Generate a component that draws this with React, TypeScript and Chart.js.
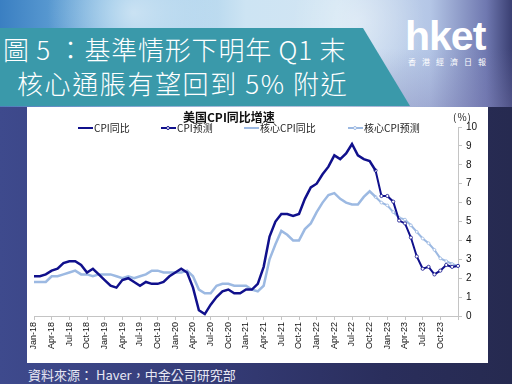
import React, { useEffect, useRef } from "react";
import { Chart, registerables } from "chart.js";
Chart.register(...registerables);

// Category positions: Jan-18 … Jan-24 (73 monthly slots)
const monthNames = ["Jan", "Feb", "Mar", "Apr", "May", "Jun", "Jul", "Aug", "Sep", "Oct", "Nov", "Dec"];
const yearSuffixes = ["18", "19", "20", "21", "22", "23", "24"];
const categories: string[] = [];
yearSuffixes.forEach((y) => monthNames.forEach((m) => categories.push(`${m}-${y}`)));
categories.length = 73;

// Tick labels shown on the x axis
const tickLabels = [
  "Jan-18", "Apr-18", "Jul-18", "Oct-18", "Jan-19", "Apr-19", "Jul-19", "Oct-19",
  "Jan-20", "Apr-20", "Jul-20", "Oct-20", "Jan-21", "Apr-21", "Jul-21", "Oct-21",
  "Jan-22", "Apr-22", "Jul-22", "Oct-22", "Jan-23", "Apr-23", "Jul-23", "Oct-23",
];

// CPI YoY (%), positions 0..58
const cpiActual = [
  2.1,
  2.1, 2.2, 2.4, 2.5, 2.8, 2.9, 2.9, 2.7, 2.3, 2.5, 2.2, 1.9,
  1.6, 1.5, 1.9, 2.0, 1.8, 1.6, 1.8, 1.7, 1.7, 1.8, 2.1, 2.3,
  2.5, 2.3, 1.5, 0.3, 0.1, 0.6, 1.0, 1.3, 1.4, 1.2, 1.2, 1.4,
  1.4, 1.7, 2.6, 4.2, 5.0, 5.4, 5.4, 5.3, 5.4, 6.2, 6.8, 7.0,
  7.5, 7.9, 8.5, 8.3, 8.6, 9.1, 8.5, 8.3, 8.2, 7.7,
];
// CPI forecast (%), positions 58..72
const cpiForecast = [7.7, 6.35, 6.35, 6.05, 5.05, 4.9, 4.15, 3.15, 2.5, 2.6, 2.2, 2.4, 2.7, 2.6, 2.65];

// Core CPI YoY (%), positions 0..58
const coreActual = [
  1.8,
  1.8, 1.8, 2.1, 2.1, 2.2, 2.3, 2.4, 2.2, 2.2, 2.1, 2.2, 2.2,
  2.2, 2.1, 2.0, 2.1, 2.0, 2.1, 2.2, 2.4, 2.4, 2.3, 2.3, 2.3,
  2.3, 2.4, 2.1, 1.4, 1.2, 1.2, 1.6, 1.7, 1.7, 1.6, 1.6, 1.6,
  1.4, 1.3, 1.6, 3.0, 3.8, 4.5, 4.3, 4.0, 4.0, 4.6, 4.9, 5.5,
  6.0, 6.4, 6.5, 6.2, 6.0, 5.9, 5.9, 6.3, 6.6, 6.3,
];
// Core CPI forecast (%), positions 58..72
const coreForecast = [6.3, 6.0, 5.85, 5.5, 5.2, 5.1, 4.8, 4.45, 4.1, 3.85, 3.5, 3.05, 2.9, 2.75, 2.65];

const forecastStart = 58;
const yTicks = [0, 1, 2, 3, 4, 5, 6, 7, 8, 9, 10];

const DARK = "#10108c";
const LIGHT = "#9cb9e2";

function pad(values: number[], start: number): (number | null)[] {
  const out: (number | null)[] = new Array(categories.length).fill(null);
  values.forEach((v, i) => (out[start + i] = v));
  return out;
}

const CJK_SC = "'Noto Sans CJK SC', 'Liberation Sans', Arial, sans-serif";
const CJK_TC = "'Noto Sans CJK TC', 'Liberation Sans', Arial, sans-serif";

function LegendItem({ left, color, marker, text }: { left: number; color: string; marker: boolean; text: string }) {
  return (
    <div style={{ position: "absolute", left, top: 121, height: 13, display: "flex", alignItems: "center" }}>
      <div style={{ position: "relative", width: 15, height: 13 }}>
        <div style={{ position: "absolute", left: 0, top: 5.5, width: 15, height: 2, background: color }} />
        {marker && (
          <div
            style={{
              position: "absolute", left: 5, top: 4.5, width: 2, height: 2, borderRadius: "50%",
              background: "#fff", border: `1px solid ${color}`,
            }}
          />
        )}
      </div>
      <span style={{ fontFamily: CJK_SC, fontSize: 10, color: "#222", marginLeft: 1, whiteSpace: "nowrap", lineHeight: "13px" }}>
        {text}
      </span>
    </div>
  );
}

export default function App() {
  const canvasRef = useRef<HTMLCanvasElement | null>(null);

  useEffect(() => {
    if (!canvasRef.current) return;
    const chart = new Chart(canvasRef.current, {
      type: "line",
      data: {
        labels: categories,
        datasets: [
          {
            label: "CPI同比", data: pad(cpiActual, 0), borderColor: DARK, borderWidth: 2.5,
            pointRadius: 0, tension: 0, fill: false,
          },
          {
            label: "CPI预测", data: pad(cpiForecast, forecastStart), borderColor: DARK, borderWidth: 2,
            pointRadius: 1.6, pointBackgroundColor: "#fff", pointBorderColor: DARK, pointBorderWidth: 0.8, tension: 0, fill: false,
          },
          {
            label: "核心CPI同比", data: pad(coreActual, 0), borderColor: LIGHT, borderWidth: 2.5,
            pointRadius: 0, tension: 0, fill: false,
          },
          {
            label: "核心CPI预测", data: pad(coreForecast, forecastStart), borderColor: LIGHT, borderWidth: 2,
            pointRadius: 1.4, pointBackgroundColor: "#fff", pointBorderColor: LIGHT, pointBorderWidth: 0.8, tension: 0, fill: false,
          },
        ],
      },
      options: {
        animation: false,
        responsive: false,
        maintainAspectRatio: false,
        layout: { padding: { left: 7, top: 20, right: 0, bottom: 0 } },
        plugins: { legend: { display: false }, title: { display: false }, tooltip: { enabled: false } },
        scales: {
          x: {
            type: "category",
            offset: false,
            grid: {
              display: true,
              drawOnChartArea: false,
              drawTicks: true,
              tickLength: 4,
              color: (ctx: any) => (ctx.index % 3 === 0 ? "#c4c4c4" : "rgba(0,0,0,0)"),
            },
            border: { display: true, color: "#c4c4c4", width: 1 },
            ticks: {
              autoSkip: false,
              minRotation: 90,
              maxRotation: 90,
              padding: 2,
              color: "#111",
              font: { family: "'Liberation Sans', Arial, sans-serif", size: 9 },
              callback: (_v: any, index: number) => {
                const lbl = categories[index];
                return tickLabels.includes(lbl) ? lbl : "";
              },
            },
            afterFit: (scale: any) => { scale.height = 47; },
          },
          y: {
            position: "right",
            min: 0,
            max: 10,
            afterBuildTicks: (scale: any) => { scale.ticks = yTicks.map((v) => ({ value: v })); },
            grid: { display: true, drawOnChartArea: false, drawTicks: true, tickLength: 4, color: "#c4c4c4" },
            border: { display: true, color: "#c4c4c4", width: 1 },
            ticks: {
              padding: 4,
              color: "#111",
              font: { family: "'Liberation Sans', Arial, sans-serif", size: 10 },
            },
            afterFit: (scale: any) => { scale.width = 30; },
          },
        },
      },
    } as any);
    return () => chart.destroy();
  }, []);

  return (
    <div
      style={{
        position: "absolute", left: 0, top: 0, width: 512, height: 384, overflow: "hidden",
        background: "linear-gradient(90deg, #3e4a8d 0%, #353c78 40%, #2a2e5c 75%, #262a50 100%)",
      }}
    >
      {/* top decorative background */}
      <div
        style={{
          position: "absolute", left: 0, top: 0, width: 512, height: 107,
          background:
            "radial-gradient(circle at 26% 12%, rgba(255,255,255,0.55) 0, rgba(255,255,255,0) 22%)," +
            "radial-gradient(circle at 70% 20%, rgba(255,255,255,0.35) 0, rgba(255,255,255,0) 18%)," +
            "linear-gradient(180deg, rgba(0,0,0,0) 45%, rgba(120,120,175,0.35) 100%)," +
            "linear-gradient(90deg, #3a7fc2 0%, #7db8e2 22%, #cde4f3 48%, #d2e5f3 66%, #b4c6e6 84%, #6f78b0 95%, #3a3f72 100%)",
        }}
      />
      {/* title banner */}
      <div
        style={{
          position: "absolute", left: 0, top: 28, width: 410, height: 78, background: "#3a99aa",
          clipPath: "polygon(0 0, 363px 0, 410px 78px, 0 78px)",
        }}
      />
      <div
        style={{
          position: "absolute", left: 3, top: 32, color: "#fff", fontFamily: CJK_TC, fontSize: 26,
          lineHeight: "34px", whiteSpace: "nowrap", fontWeight: 300, letterSpacing: 0.8,
        }}
      >
        <div>圖 5 ：基準情形下明年 Q1 末</div>
        <div style={{ paddingLeft: 14, letterSpacing: 1.6 }}>核心通脹有望回到 5% 附近</div>
      </div>
      {/* logo */}
      <div
        style={{
          position: "absolute", left: 405, top: 12, color: "#fff", fontFamily: "'Liberation Sans', Arial, sans-serif",
          fontWeight: 700, fontSize: 41, letterSpacing: -1, lineHeight: "48px",
        }}
      >
        hket
      </div>
      <div
        style={{
          position: "absolute", left: 408, top: 57, color: "#fff", fontFamily: CJK_TC, fontSize: 8,
          letterSpacing: 6, lineHeight: "10px", whiteSpace: "nowrap",
        }}
      >
        香港經濟日報
      </div>
      {/* white chart panel */}
      <div style={{ position: "absolute", left: 27, top: 107, width: 461, height: 256, background: "#fff" }}>
        <canvas ref={canvasRef} width={461} height={256} style={{ display: "block", width: 461, height: 256 }} />
      </div>
      {/* chart title and legend */}
      <div
        style={{
          position: "absolute", left: 183, top: 109, fontFamily: CJK_SC, fontSize: 12, fontWeight: 700,
          color: "#111", lineHeight: "15px", whiteSpace: "nowrap",
        }}
      >
        美国CPI同比增速
      </div>
      <div
        style={{
          position: "absolute", left: 453, top: 110, fontFamily: CJK_SC, fontSize: 10, color: "#222",
          lineHeight: "13px", letterSpacing: 1, whiteSpace: "nowrap",
        }}
      >
        (%)
      </div>
      <LegendItem left={78} color={DARK} marker={false} text="CPI同比" />
      <LegendItem left={161} color={DARK} marker={true} text="CPI预测" />
      <LegendItem left={244} color={LIGHT} marker={false} text="核心CPI同比" />
      <LegendItem left={348} color={LIGHT} marker={true} text="核心CPI预测" />
      {/* source */}
      <div
        style={{
          position: "absolute", left: 28, top: 366, color: "#e8e8f4", fontFamily: CJK_TC, fontSize: 13,
          lineHeight: "17px", whiteSpace: "nowrap",
        }}
      >
        資料來源： Haver，中金公司研究部
      </div>
    </div>
  );
}
